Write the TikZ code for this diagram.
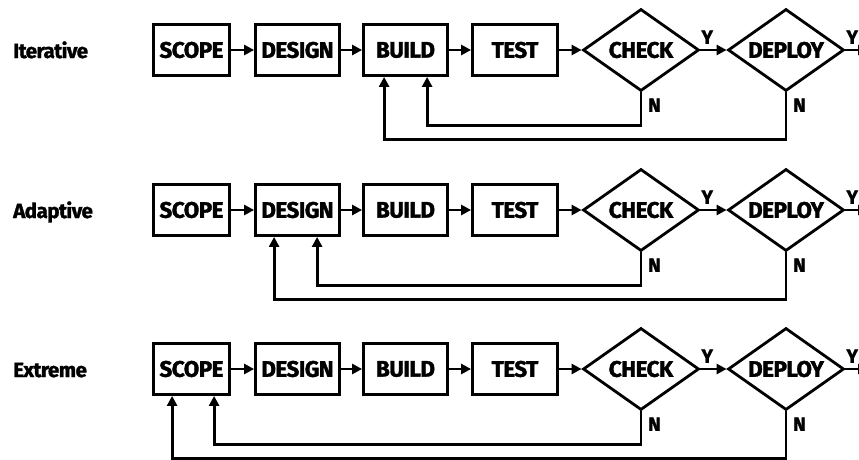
\documentclass[tikz,border=0pt]{standalone}
\usepackage{fontspec}
\setmainfont{Fira Sans}[BoldFeatures={FakeBold=1.6}]
\newfontfamily\boxfont{Fira Sans}[BoldFeatures={FakeBold=1.6},LetterSpace=-2.5]
\usetikzlibrary{arrows.meta,shapes.geometric,calc}
\tikzset{
  stagebox/.style={draw,line width=2.8pt,minimum height=51pt,inner sep=0pt,
    font=\boxfont\fontsize{22.5}{22.5}\selectfont\bfseries},
  decision/.style={draw,diamond,line width=2.8pt,minimum width=116pt,minimum height=82pt,
    inner sep=0pt,aspect=1.4,font=\boxfont\fontsize{22.5}{22.5}\selectfont\bfseries},
  flow/.style={line width=2.8pt,-{Triangle[length=10pt,width=10pt]}},
  back/.style={line width=2.8pt,-{Triangle[length=10pt,width=10pt]}},
  rowlabel/.style={anchor=base west,inner sep=0pt,font=\boxfont\fontsize{20.5}{20.5}\selectfont\bfseries},
  yn/.style={inner sep=0pt,font=\fontsize{19}{19}\selectfont\bfseries}
}
\begin{document}
\begin{tikzpicture}[x=1pt,y=-1pt]
\useasboundingbox (0,0) rectangle (859,459);
\foreach \r/\ry/\lab/\tgt/\oa/\ob in {1/50/Iterative/b/22/65, 2/210/Adaptive/d/20/63, 3/369/Extreme/s/20/62}{
  \node[rowlabel] (lab\r) at (13,\ry+8) {\lab};
  \node[stagebox,minimum width=76pt] (s\r) at (191.5,\ry) {SCOPE};
  \node[stagebox,minimum width=84pt] (d\r) at (297.5,\ry) {DESIGN};
  \node[stagebox,minimum width=84pt] (b\r) at (405.5,\ry) {BUILD};
  \node[stagebox,minimum width=85pt] (t\r) at (515,\ry) {TEST};
  \node[decision] (c\r) at (641,\ry) {CHECK};
  \node[decision] (p\r) at (786,\ry) {DEPLOY};
  \coordinate (out\r) at (868,\ry);
  \draw[flow] (s\r) -- (d\r);
  \draw[flow] (d\r) -- (b\r);
  \draw[flow] (b\r) -- (t\r);
  \draw[flow] (t\r) -- (c\r);
  \draw[flow] (c\r) -- (p\r);
  \draw[flow] (p\r) -- (out\r);
  \node[yn,anchor=south west] (cy\r) at ($(c\r.east)+(1,-6)$) {Y};
  \node[yn,anchor=south west] (py\r) at ($(p\r.east)+(1,-6)$) {Y};
  \node[yn,anchor=north west] (cn\r) at ($(c\r.south)+(7,6)$) {N};
  \node[yn,anchor=north west] (pn\r) at ($(p\r.south)+(7,6)$) {N};
  \draw[back] (c\r.south) -- ++(0,33) -| ([xshift=\ob pt]\tgt\r.south west);
  \draw[back] (p\r.south) -- ++(0,47) -| ([xshift=\oa pt]\tgt\r.south west);
}
\end{tikzpicture}
\end{document}
